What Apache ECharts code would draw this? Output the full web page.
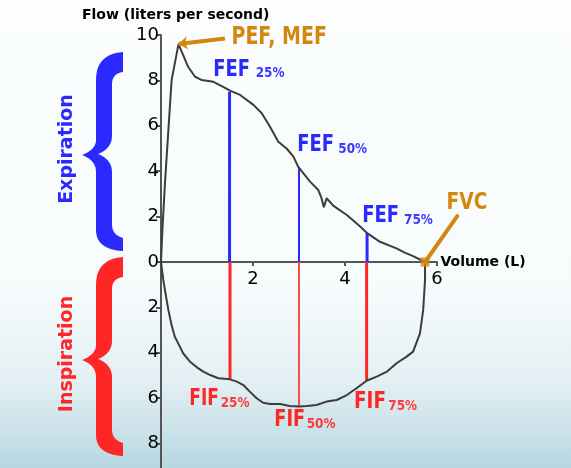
<!DOCTYPE html>
<html><head><meta charset="utf-8">
<script src="https://cdn.jsdelivr.net/npm/echarts@6/dist/echarts.min.js"></script>
<style>
html,body{margin:0;padding:0;}
#c{width:571px;height:468px;background:linear-gradient(to bottom,#fbfdfe 0%,#f6fbfc 62%,#e2eff3 82%,#b7d7e1 100%);}
</style></head><body><div id="c"></div>
<script>
// Expiration limb (volume L, flow L/s)
const expVolume = [0, 0.03, 0.09, 0.16, 0.23, 0.38, 0.48, 0.59, 0.74, 0.88, 1.14, 1.32, 1.50, 1.72, 2.01, 2.19, 2.37, 2.55, 2.73, 2.88, 2.98, 3.24, 3.42, 3.49, 3.54, 3.60, 3.75, 4.04, 4.33, 4.49, 4.76, 5.12, 5.30, 5.48, 5.74];
const expFlow   = [0, 1.4, 3.6, 5.8, 8.0, 9.6, 9.12, 8.6, 8.16, 8.02, 7.94, 7.75, 7.55, 7.36, 6.92, 6.55, 5.96, 5.3, 5.0, 4.64, 4.2, 3.54, 3.17, 2.81, 2.41, 2.81, 2.47, 2.07, 1.56, 1.26, 0.89, 0.6, 0.41, 0.26, 0];
// Inspiration limb (negative flow drawn below the axis)
const inspVolume = [0, 0.05, 0.11, 0.16, 0.23, 0.30, 0.41, 0.48, 0.63, 0.78, 0.92, 1.07, 1.25, 1.50, 1.65, 1.79, 1.93, 2.08, 2.22, 2.37, 2.59, 2.80, 3.00, 3.17, 3.38, 3.60, 3.82, 4.04, 4.25, 4.47, 4.69, 4.91, 5.12, 5.34, 5.48, 5.63, 5.70, 5.74, 5.74];
const inspFlow   = [0, -0.79, -1.53, -2.11, -2.78, -3.29, -3.73, -4.02, -4.39, -4.64, -4.83, -4.98, -5.12, -5.17, -5.27, -5.42, -5.71, -6.0, -6.2, -6.26, -6.26, -6.34, -6.37, -6.34, -6.3, -6.15, -6.08, -5.86, -5.56, -5.23, -5.05, -4.83, -4.46, -4.17, -3.95, -3.14, -2.11, -0.79, 0];
// Marked points
const fefVolume = [1.49, 3.0, 4.48];
const fefFlow   = [7.5, 4.18, 1.28];
const fifVolume = [1.5, 3.0, 4.47];
const fifFlow   = [-5.2, -6.37, -5.23];
const pefPoint  = [0.38, 9.6];
const pefLabelAnchor = [1.39, 9.85];
const fvcPoint  = [5.74, 0];
const fvcLabelAnchor = [6.44, 2.02];
const pctLabels = ['25%', '50%', '75%'];

const BLUE = '#2a2aff', RED = '#ff2626', ORANGE = '#d4870f', CURVE = '#3c3c3c';
const FONT = '"DejaVu Sans", Verdana, sans-serif';

const chart = echarts.init(document.getElementById('c'), null, {renderer: 'canvas'});

const series = [];
series.push({
  type: 'line', data: expVolume.map((v, i) => [v, expFlow[i]]), symbol: 'none',
  lineStyle: {color: CURVE, width: 2}, z: 4, silent: true
});
series.push({
  type: 'line', data: inspVolume.map((v, i) => [v, inspFlow[i]]), symbol: 'none',
  lineStyle: {color: CURVE, width: 2}, z: 4, silent: true
});
fefVolume.forEach((v, i) => series.push({
  type: 'line', data: [[v, 0], [v, fefFlow[i]]], symbol: 'none',
  lineStyle: {color: BLUE, width: i === 1 ? 2 : 3}, z: 3, silent: true
}));
fifVolume.forEach((v, i) => series.push({
  type: 'line', data: [[v, 0], [v, fifFlow[i]]], symbol: 'none',
  lineStyle: {color: i === 1 ? '#ff4a4a' : RED, width: i === 1 ? 2 : 3}, z: 3, silent: true
}));
// PEF pointer
series.push({
  type: 'line', data: [], clip: false, silent: true, z: 5,
  markLine: {
    silent: true, animation: false, label: {show: false},
    symbol: ['none', 'arrow'], symbolSize: [10, 9],
    lineStyle: {color: ORANGE, width: 4, type: 'solid'},
    emphasis: {disabled: true},
    data: [[{coord: pefLabelAnchor}, {coord: pefPoint}]]
  }
});
series.push({
  type: 'scatter', data: [fvcPoint], symbol: 'rect', symbolSize: 9,
  itemStyle: {color: ORANGE}, z: 6, silent: true, clip: false
});

// annotation text helpers
function label(txt, x, cy, size, sx, color, weight) {
  return {type: 'text', x: x, y: cy, scaleX: sx, z: 20, silent: true,
    style: {text: txt, x: 0, y: 0, fill: color, font: (weight || 'bold') + ' ' + size + 'px ' + FONT,
      textAlign: 'left', textVerticalAlign: 'middle'}};
}
const graphics = [];
graphics.push(label('Flow (liters per second)', 82, 15, 14, 1, '#000'));
graphics.push(label('PEF, MEF', 231.5, 38, 24, 0.79, ORANGE));
graphics.push(label('FVC', 446.5, 203.5, 23, 0.81, ORANGE));
const fefPos = [[213.3, 70, 255.7, 73.5], [297.3, 145, 338.3, 149.3], [362.3, 216.3, 404, 220.5]];
const fifPos = [[189.3, 399.5, 220.7, 403.7, 0.74], [274.3, 420, 306.7, 424.2, 0.77], [354, 402.3, 388.3, 406.5, 0.8]];
fefPos.forEach((p, i) => {
  graphics.push(label('FEF', p[0], p[1], 23, 0.78, BLUE));
  graphics.push(label(pctLabels[i], p[2], p[3], 14, 0.86, '#3a3aff'));
});
fifPos.forEach((p, i) => {
  graphics.push(label('FIF', p[0], p[1], 23, p[4], RED));
  graphics.push(label(pctLabels[i], p[2], p[3], 14, 0.86, '#ff3a3a'));
});
// vertical labels
graphics.push({type: 'text', x: 67.5, y: 149, rotation: Math.PI / 2, z: 20, silent: true,
  style: {text: 'Expiration', x: 0, y: 0, fill: BLUE, font: 'bold 19px ' + FONT, textAlign: 'center', textVerticalAlign: 'middle'}});
graphics.push({type: 'text', x: 67.5, y: 354, rotation: Math.PI / 2, z: 20, silent: true,
  style: {text: 'Inspiration', x: 0, y: 0, fill: RED, font: 'bold 19px ' + FONT, textAlign: 'center', textVerticalAlign: 'middle'}});
// braces as sampled polygons (decoration)
function bez(p0, p1, p2, p3, n) {
  const out = [];
  for (let k = 1; k <= n; k++) {
    const t = k / n, u = 1 - t;
    out.push([u*u*u*p0[0] + 3*u*u*t*p1[0] + 3*u*t*t*p2[0] + t*t*t*p3[0],
              u*u*u*p0[1] + 3*u*u*t*p1[1] + 3*u*t*t*p2[1] + t*t*t*p3[1]]);
  }
  return out;
}
function bracePoints(dy) {
  const P = (x, y) => [x, y + dy];
  let pts = [P(123, 52)];
  const seg = (a, b, c, d) => { pts = pts.concat(bez(a, b, c, d, 12)); };
  seg(P(123,52), P(108,53), P(96,60), P(96,80));
  pts.push(P(96,140));
  seg(P(96,140), P(96,147), P(90,152), P(82,155));
  seg(P(82,155), P(90,158), P(96,163), P(96,172));
  pts.push(P(96,230));
  seg(P(96,230), P(96,245), P(108,250), P(123,251));
  pts.push(P(123,238));
  seg(P(123,238), P(116,236), P(112,232), P(112,224));
  pts.push(P(112,172));
  seg(P(112,172), P(112,163), P(106,157), P(98,154));
  seg(P(98,154), P(106,151), P(112,145), P(112,136));
  pts.push(P(112,84));
  seg(P(112,84), P(112,77), P(116,73), P(123,72));
  return pts;
}
graphics.push({type: 'polygon', z: 10, silent: true, shape: {points: bracePoints(0)}, style: {fill: BLUE}});
graphics.push({type: 'polygon', z: 10, silent: true, shape: {points: bracePoints(205)}, style: {fill: RED}});

const GRID_TOP = 35, GRID_H = 454;
const axisLbl = {color: '#000', fontSize: 18, fontFamily: FONT};
chart.setOption({
  animation: false,
  backgroundColor: 'transparent',
  grid: {left: 161, width: 276, top: GRID_TOP, height: GRID_H, containLabel: false, outerBoundsMode: 'none'},
  xAxis: {
    type: 'value', min: 0, max: 6, interval: 2, position: 'bottom',
    offset: -GRID_H / 2,
    axisLine: {show: true, onZero: false, lineStyle: {color: '#555', width: 2}},
    axisTick: {show: true, length: 4, lineStyle: {color: '#555', width: 2}},
    axisLabel: Object.assign({margin: 8, formatter: v => v === 0 ? '' : String(v)}, axisLbl),
    splitLine: {show: false},
    name: 'Volume (L)', nameLocation: 'end', nameGap: 3.5,
    nameTextStyle: {color: '#000', fontSize: 14, fontWeight: 'bold', fontFamily: FONT, verticalAlign: 'middle', align: 'left'}
  },
  yAxis: {
    type: 'value', min: -10, max: 10, interval: 2,
    axisLine: {show: true, onZero: false, lineStyle: {color: '#555', width: 2}},
    axisTick: {show: true, length: 5, lineStyle: {color: '#555', width: 2}},
    axisLabel: Object.assign({margin: 2, formatter: v => String(Math.abs(v))}, axisLbl),
    splitLine: {show: false}
  },
  series: series
});
// FVC pointer, placed from data coordinates through the grid's scales
const a = chart.convertToPixel({gridIndex: 0}, fvcLabelAnchor);
const b = chart.convertToPixel({gridIndex: 0}, fvcPoint);
graphics.push({type: 'line', z: 15, silent: true,
  shape: {x1: a[0], y1: a[1], x2: b[0], y2: b[1]},
  style: {stroke: ORANGE, lineWidth: 4, lineCap: 'round'}});
chart.setOption({graphic: {elements: graphics}});
</script>
</body></html>
